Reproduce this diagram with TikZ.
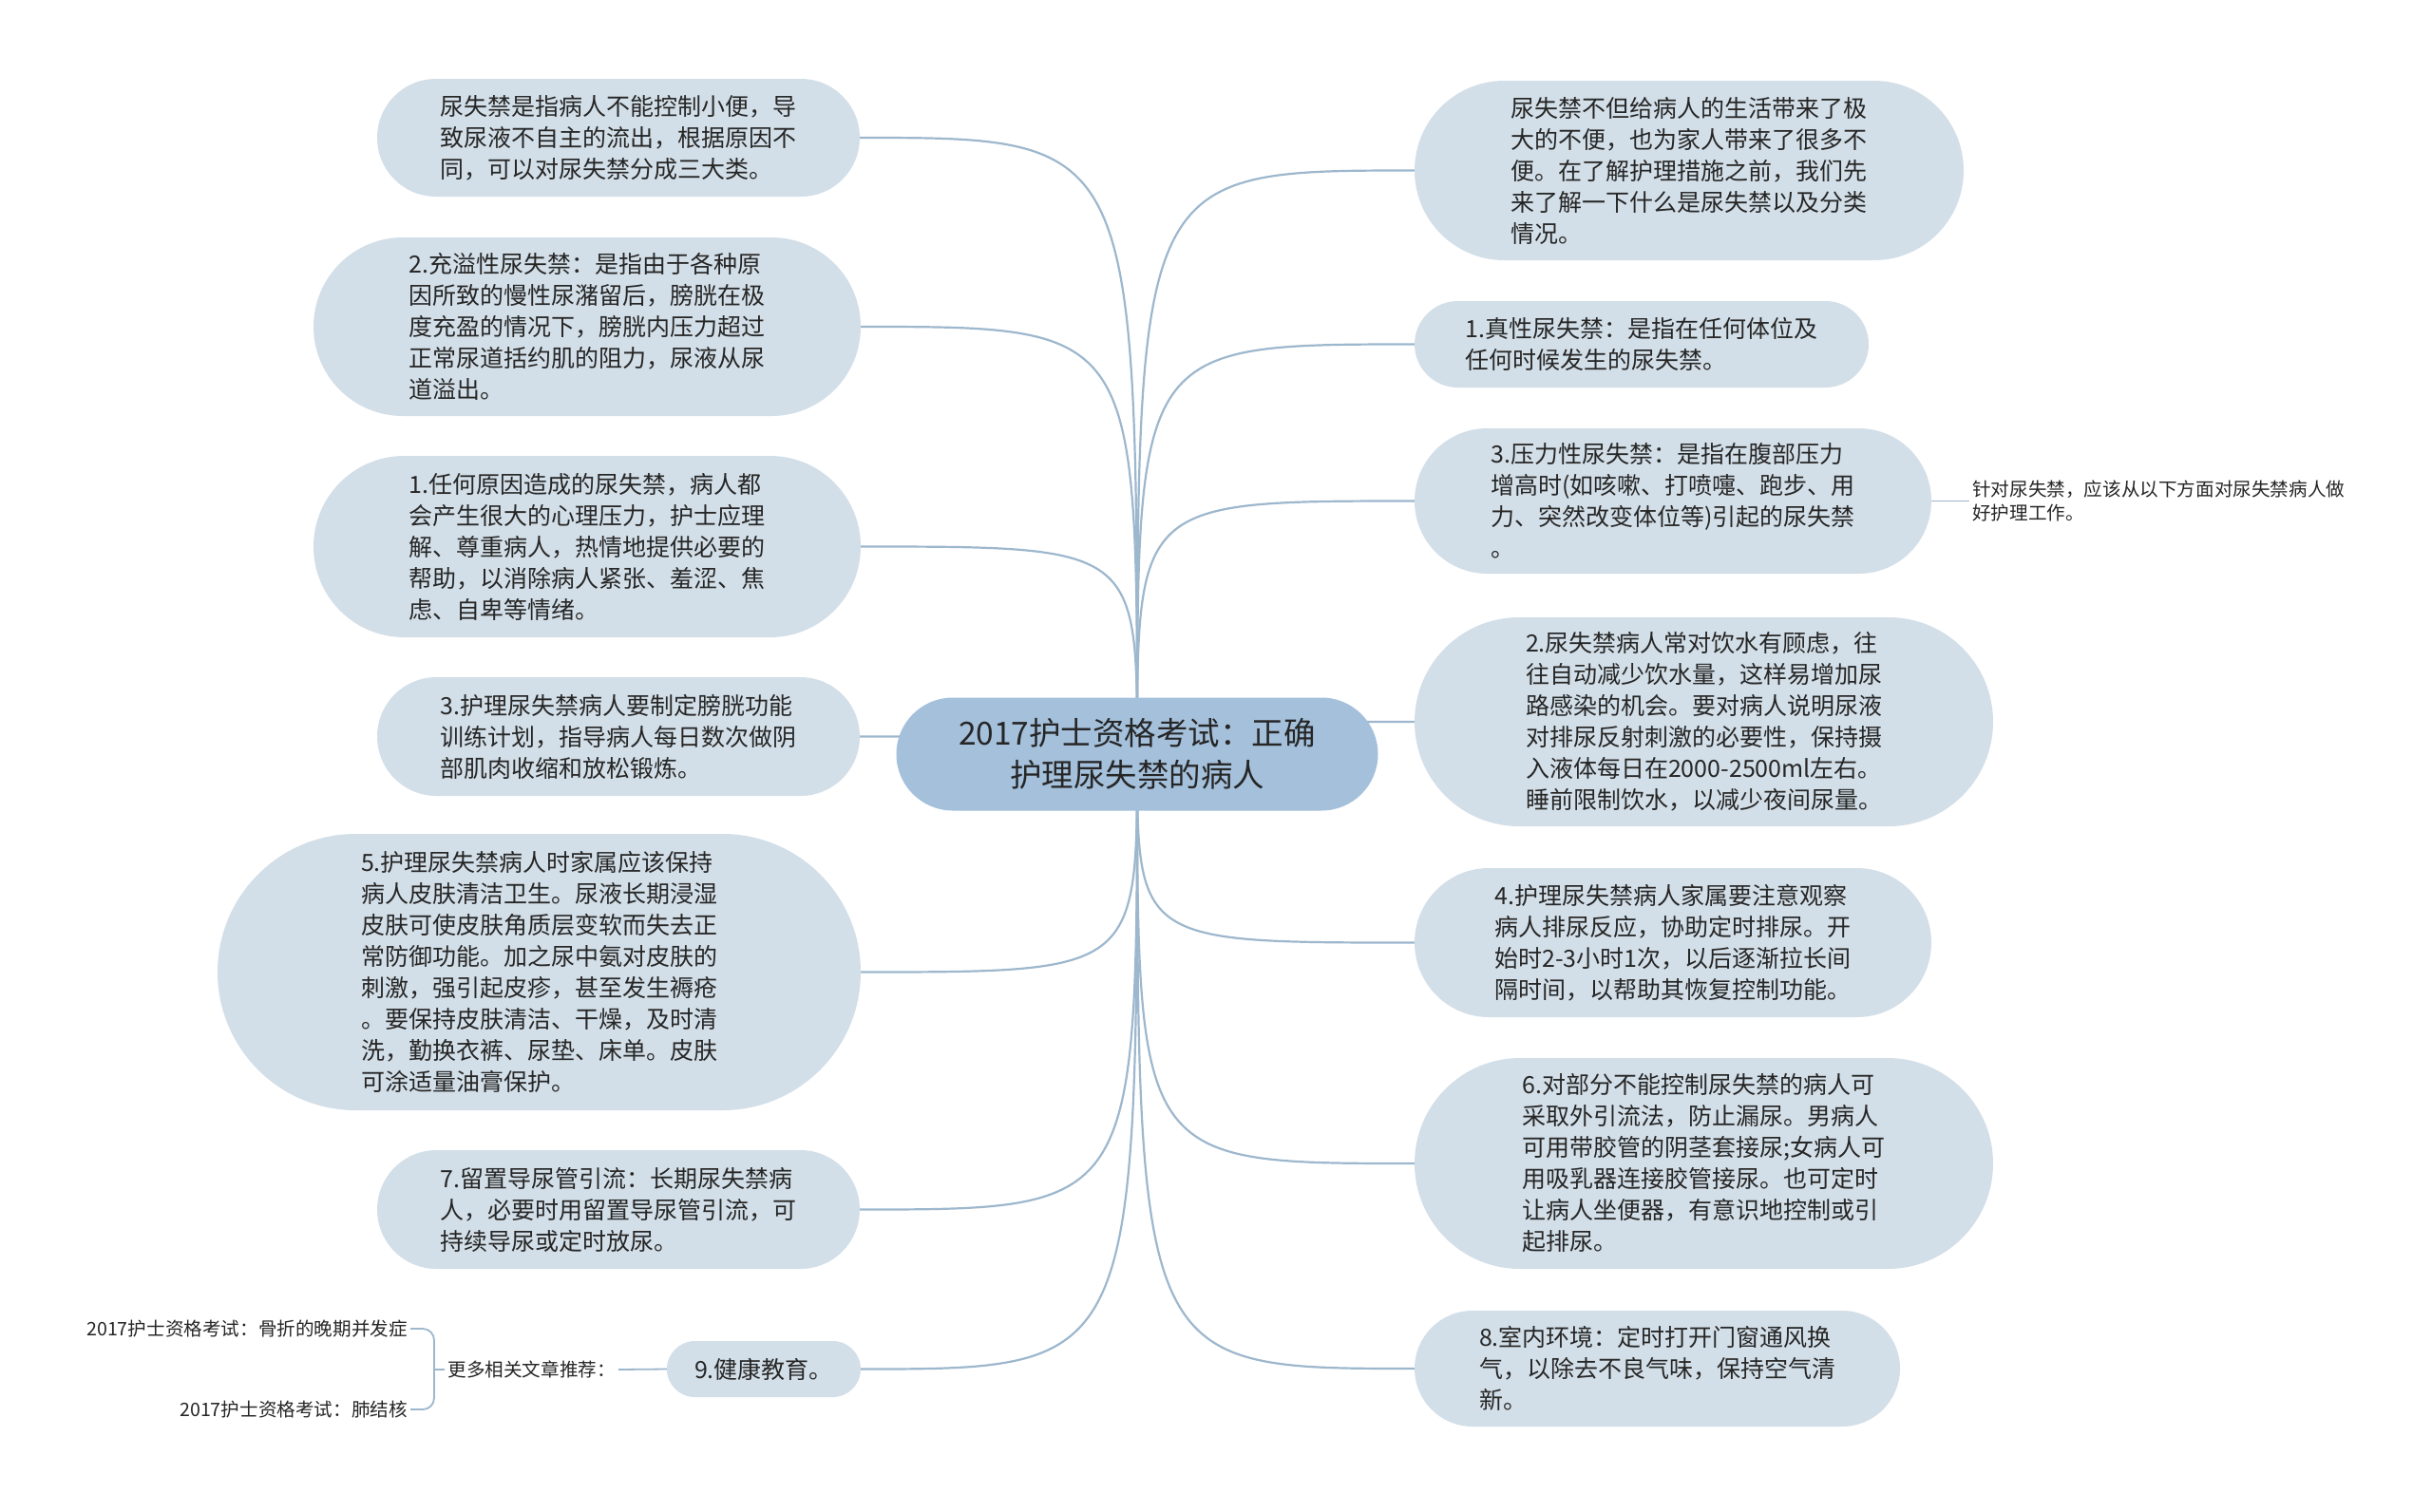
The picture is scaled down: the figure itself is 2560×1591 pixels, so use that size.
\documentclass[tikz,border=0pt]{standalone}
\usepackage{fontspec}
\setmainfont{Noto Sans CJK SC}
\usetikzlibrary{shapes.misc,backgrounds}
\definecolor{boxfill}{HTML}{D3DFE8}
\definecolor{rootfill}{HTML}{A4C0DB}
\definecolor{linkcol}{HTML}{9DB7CD}
\definecolor{txt}{HTML}{262626}
\begin{document}
\begin{tikzpicture}[x=1pt,y=-1pt,
  box/.style={rounded rectangle, fill=boxfill, text=txt, align=left, inner sep=0pt,
     font=\fontsize{25}{33}\selectfont},
  root/.style={rounded rectangle, fill=rootfill, text=txt, align=center, inner sep=0pt,
     font=\fontsize{33.5}{44}\selectfont},
  small/.style={text=txt, align=left, inner sep=3pt, font=\fontsize{19.6}{24.5}\selectfont},
  link/.style={draw=linkcol, line width=2.2pt},
  thinlink/.style={draw=linkcol, line width=1.8pt}]
\useasboundingbox (0,0) rectangle (2560,1591);

\node[root, minimum width=507, minimum height=119] (c) at (1197,794) {2017护士资格考试：正确\\护理尿失禁的病人};

% left side
\node[box, minimum width=508, minimum height=124] (l1) at (651,145) {尿失禁是指病人不能控制小便，导\\致尿液不自主的流出，根据原因不\\同，可以对尿失禁分成三大类。};
\node[box, minimum width=576, minimum height=188] (l2) at (618,344) {2.充溢性尿失禁：是指由于各种原\\因所致的慢性尿潴留后，膀胱在极\\度充盈的情况下，膀胱内压力超过\\正常尿道括约肌的阻力，尿液从尿\\道溢出。};
\node[box, minimum width=576, minimum height=191] (l3) at (618,575.5) {1.任何原因造成的尿失禁，病人都\\会产生很大的心理压力，护士应理\\解、尊重病人，热情地提供必要的\\帮助，以消除病人紧张、羞涩、焦\\虑、自卑等情绪。};
\node[box, minimum width=508, minimum height=125] (l4) at (651,775.5) {3.护理尿失禁病人要制定膀胱功能\\训练计划，指导病人每日数次做阴\\部肌肉收缩和放松锻炼。};
\node[box, minimum width=677, minimum height=291] (l5) at (567.5,1023.5) {5.护理尿失禁病人时家属应该保持\\病人皮肤清洁卫生。尿液长期浸湿\\皮肤可使皮肤角质层变软而失去正\\常防御功能。加之尿中氨对皮肤的\\刺激，强引起皮疹，甚至发生褥疮\\。要保持皮肤清洁、干燥，及时清\\洗，勤换衣裤、尿垫、床单。皮肤\\可涂适量油膏保护。};
\node[box, minimum width=508, minimum height=125] (l6) at (651,1273.5) {7.留置导尿管引流：长期尿失禁病\\人，必要时用留置导尿管引流，可\\持续导尿或定时放尿。};
\node[box, minimum width=204, minimum height=59] (l7) at (804,1441.5) {9.健康教育。};

\node[small, anchor=east] (more) at (651,1442) {更多相关文章推荐：};
\node[small, anchor=east] (t1) at (432,1399) {2017护士资格考试：骨折的晚期并发症};
\node[small, anchor=east] (t2) at (432,1484) {2017护士资格考试：肺结核};
\coordinate (brk) at (457,1442);

% right side
\node[box, minimum width=578, minimum height=189] (r1) at (1778,179.5) {尿失禁不但给病人的生活带来了极\\大的不便，也为家人带来了很多不\\便。在了解护理措施之前，我们先\\来了解一下什么是尿失禁以及分类\\情况。};
\node[box, minimum width=478, minimum height=91] (r2) at (1728,362.5) {1.真性尿失禁：是指在任何体位及\\任何时候发生的尿失禁。};
\node[box, minimum width=544, minimum height=153] (r3) at (1761,527.5) {3.压力性尿失禁：是指在腹部压力\\增高时(如咳嗽、打喷嚏、跑步、用\\力、突然改变体位等)引起的尿失禁\\。};
\node[box, minimum width=609, minimum height=220] (r4) at (1793.5,760) {2.尿失禁病人常对饮水有顾虑，往\\往自动减少饮水量，这样易增加尿\\路感染的机会。要对病人说明尿液\\对排尿反射刺激的必要性，保持摄\\入液体每日在2000-2500ml左右。\\睡前限制饮水，以减少夜间尿量。};
\node[box, minimum width=544, minimum height=157] (r5) at (1761,992.5) {4.护理尿失禁病人家属要注意观察\\病人排尿反应，协助定时排尿。开\\始时2-3小时1次，以后逐渐拉长间\\隔时间，以帮助其恢复控制功能。};
\node[box, minimum width=609, minimum height=222] (r6) at (1793.5,1225) {6.对部分不能控制尿失禁的病人可\\采取外引流法，防止漏尿。男病人\\可用带胶管的阴茎套接尿;女病人可\\用吸乳器连接胶管接尿。也可定时\\让病人坐便器，有意识地控制或引\\起排尿。};
\node[box, minimum width=511, minimum height=122] (r7) at (1744.5,1441) {8.室内环境：定时打开门窗通风换\\气，以除去不良气味，保持空气清\\新。};

\node[small, anchor=west] (note) at (2073,527.5) {针对尿失禁，应该从以下方面对尿失禁病人做\\好护理工作。};

\begin{scope}[on background layer]
  \fill[white] (0,0) rectangle (2560,1591);
  \foreach \n in {l1,l2,l3,l4,l5,l6,l7}
    \draw[link] (c.center) .. controls (c.center |- \n.east) .. (\n.east);
  \foreach \n in {r1,r2,r3,r4,r5,r6,r7}
    \draw[link] (c.center) .. controls (c.center |- \n.west) .. (\n.west);
\end{scope}

\draw[thinlink] (r3.east) -- (note.west);
\draw[thinlink] (l7.west) -- (more.east);
\draw[thinlink] (more.west) -- (brk);
\draw[thinlink, rounded corners=12pt] (t1.east) -- (t1.east -| brk) -- (t2.east -| brk) -- (t2.east);
\end{tikzpicture}
\end{document}
